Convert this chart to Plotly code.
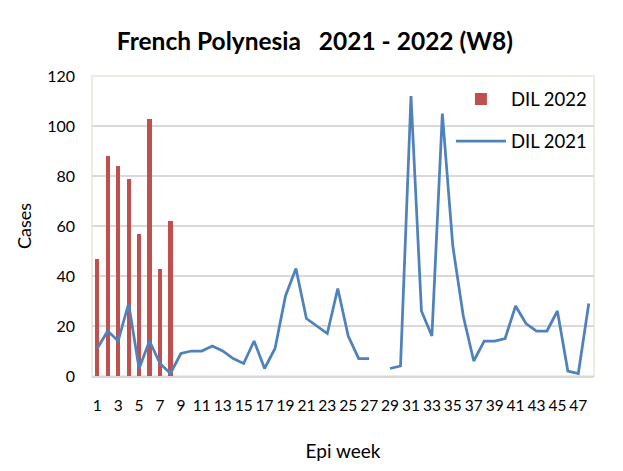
import plotly.graph_objects as go

weeks = list(range(1, 49))
weeks_2022 = list(range(1, 9))
dil_2022 = [47, 88, 84, 79, 57, 103, 43, 62]
dil_2021 = [11, 18, 14, 29, 3, 14, 5, 1, 9, 10,
            10, 12, 10, 7, 5, 14, 3, 11, 32, 43,
            23, 20, 17, 35, 16, 7, 7, None, 3, 4,
            112, 26, 16, 105, 52, 24, 6, 14, 14, 15,
            28, 21, 18, 18, 26, 2, 1, 29]
tick_vals = list(range(1, 48, 2))

FONT = "Lato"

fig = go.Figure()
fig.add_trace(go.Bar(x=weeks_2022, y=dil_2022, name="DIL 2022",
                     marker=dict(color="#C0504D", line=dict(width=0)),
                     width=0.4, legendgroup="a"))
fig.add_trace(go.Scatter(x=weeks, y=dil_2021, name="DIL 2021", mode="lines",
                         line=dict(color="#4F81BD", width=2.75),
                         connectgaps=False, legendgroup="b"))

fig.update_layout(
    width=615, height=463,
    margin=dict(l=84, r=29, t=68, b=95, autoexpand=False),
    paper_bgcolor="white", plot_bgcolor="white",
    font=dict(family=FONT, size=16, color="#000000"),
    title=dict(text="<b>French Polynesia   2021 - 2022 (W8)</b>",
               x=0.499, xref="container", xanchor="center",
               y=1 - 33 / 463, yref="container", yanchor="middle",
               font=dict(size=24.5, family=FONT, color="#000000")),
    showlegend=True,
    legend=dict(x=0.715, y=0.985, xanchor="left", yanchor="top",
                bgcolor="rgba(0,0,0,0)", font=dict(size=18.5, family=FONT),
                traceorder="grouped", tracegroupgap=15, itemwidth=50),
    bargap=0,
)
fig.update_xaxes(range=[0.5, 48.5], tickvals=tick_vals, ticktext=[str(v) for v in tick_vals],
                 showgrid=False, zeroline=False, automargin=False,
                 showline=True, linecolor="#D9D9D9", linewidth=1.5,
                 ticks="", ticklabelstandoff=15,
                 tickfont=dict(size=15.5, family=FONT),
                 title=dict(text="Epi week", font=dict(size=19, family=FONT), standoff=31))
fig.update_yaxes(range=[0, 120], dtick=20, showgrid=True, gridcolor="#D9D9D9", gridwidth=1.5,
                 zeroline=False, showline=False, ticks="", ticklabelstandoff=16,
                 automargin=False,
                 tickfont=dict(size=16, family=FONT),
                 title=dict(text="Cases", font=dict(size=18, family=FONT), standoff=10))
fig.add_shape(type="rect", xref="paper", yref="paper", x0=0, x1=1, y0=0, y1=1,
              line=dict(color="#EEECE1", width=2), layer="below")

fig.write_html("out.html")
